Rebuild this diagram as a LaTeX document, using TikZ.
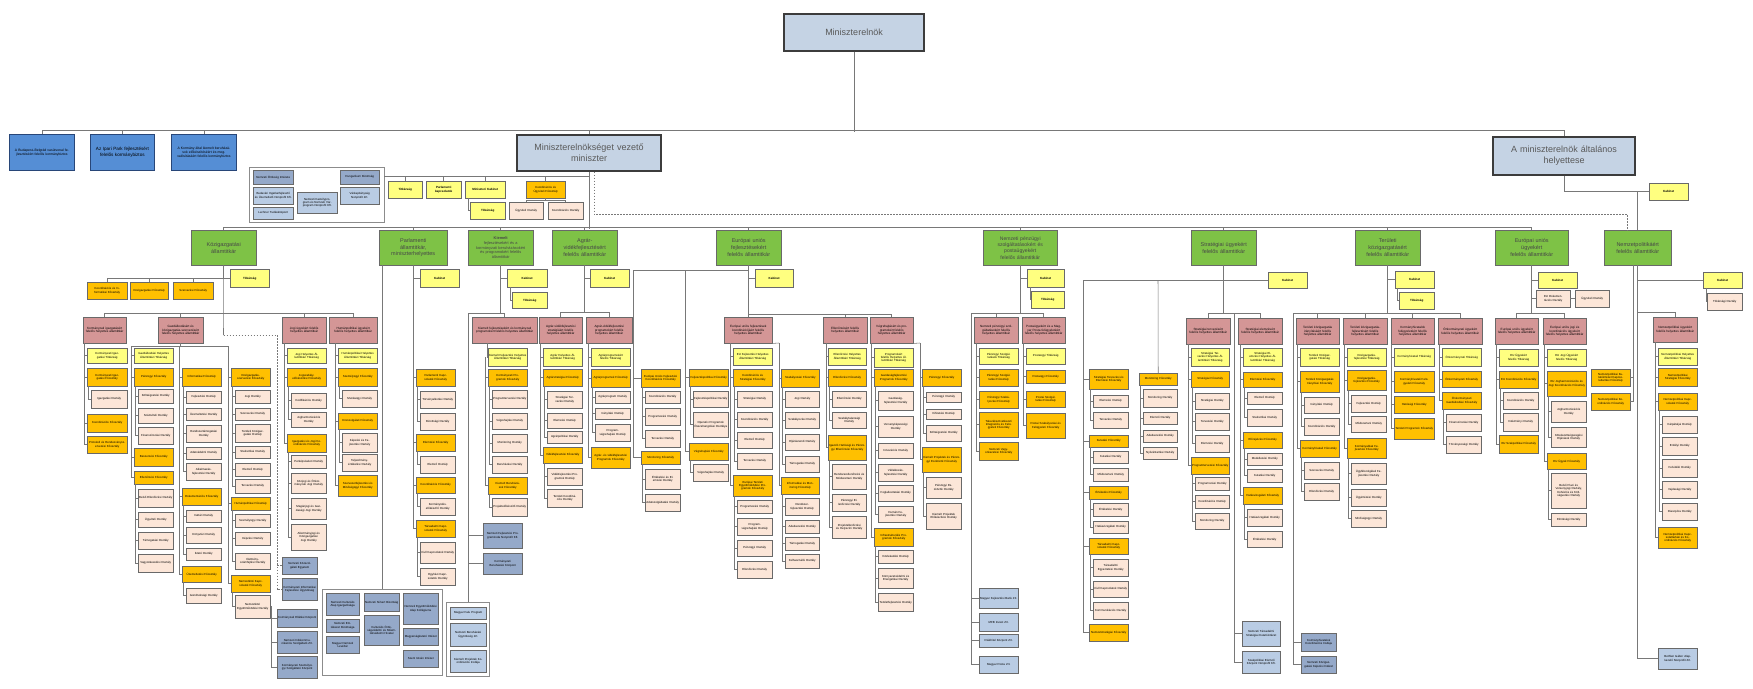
\documentclass[tikz,border=0pt]{standalone}
\usepackage{fontspec}
\setmainfont{Liberation Sans}
\usetikzlibrary{calc,shadows}
\definecolor{ctop}{RGB}{197,211,228}
\definecolor{ctopb}{RGB}{60,60,60}
\definecolor{cblue}{RGB}{85,142,213}
\definecolor{cblueb}{RGB}{40,70,120}
\definecolor{cgreen}{RGB}{126,194,70}
\definecolor{cyellow}{RGB}{255,255,128}
\definecolor{corange}{RGB}{255,192,0}
\definecolor{cpeach}{RGB}{252,230,216}
\definecolor{cpink}{RGB}{212,150,150}
\definecolor{cinstd}{RGB}{149,169,201}
\definecolor{cinstl}{RGB}{185,204,228}
\definecolor{cbord}{RGB}{105,105,105}
\definecolor{cline}{RGB}{120,120,120}
\newcommand\tfont{\fontsize{2.9}{3.3}\selectfont}
\newcommand\pfont{\fontsize{3.1}{3.6}\selectfont}
\newcommand\gfont{\fontsize{5.5}{6.8}\selectfont}
\newcommand\gfontb{\fontsize{3.9}{4.7}\selectfont}
\newcommand\kfont{\fontsize{3.0}{3.5}\selectfont\bfseries}
\newcommand\topfont{\fontsize{9}{11}\selectfont}
\newcommand\bfont{\fontsize{3.4}{4.0}\selectfont}
\newcommand\bfontb{\fontsize{4.6}{5.4}\selectfont}
% box: style, name, x, y(top), w, h, text
\newcommand\bx[7]{%
  \pgfmathsetmacro\bxtw{#5-1.6}%
  \node[#1,anchor=north west,minimum width=#5pt,minimum height=#6pt,text width=\bxtw pt] (#2) at (#3,#4) {#7};}
\newcount\bxn
% column: x0, width, start node, start xshift, bracket offset
\newcommand\setcol[5]{\gdef\cX{#1}\gdef\cW{#2}\gdef\zn{#3}\gdef\zsh{#4}\gdef\cOff{#5}}
\newcommand\setchild[1]{\gdef\on{#1.south west}\gdef\osh{1.5}}
% item: style, level, ytop, ybottom, text
\newcommand\itm[5]{%
  \global\advance\bxn by 1\relax
  \xdef\nm{b\the\bxn}%
  \pgfmathsetmacro\hh{#4-#3}%
  \ifnum#2=0\relax
    \bx{#1}{\nm}{\cX}{#3}{\cW}{\hh}{#5}%
    \draw[conn] ([xshift=\zsh pt]\zn) |- (\nm.west);%
    \xdef\zn{\nm.west}\xdef\zsh{-\cOff}%
    \xdef\on{\nm.south west}\gdef\osh{1.5}%
  \else
    \pgfmathsetmacro\xx{\cX+4}\pgfmathsetmacro\ww{\cW-4}%
    \bx{#1}{\nm}{\xx}{#3}{\ww}{\hh}{#5}%
    \draw[conn] ([xshift=\osh pt]\on) |- (\nm.west);%
    \xdef\on{\nm.west}\gdef\osh{-2.5}%
  \fi}
\begin{document}
\begin{tikzpicture}[x=1pt,y=-1pt,
 conn/.style={draw=cline,line width=0.55pt},
 dconn/.style={draw=cline,line width=0.55pt,dash pattern=on 1.8pt off 1.2pt},
 basebox/.style={draw=cbord,line width=0.45pt,inner sep=0.3pt,align=center,text=black,
   drop shadow={shadow xshift=0.6pt,shadow yshift=-0.6pt,fill=black!60,opacity=1}},
 ybox/.style={basebox,fill=cyellow,font=\tfont},
 obox/.style={basebox,fill=corange,font=\tfont},
 pbox/.style={basebox,fill=cpeach,font=\tfont},
 rbox/.style={basebox,fill=cpink,font=\pfont},
 gbox/.style={basebox,fill=cgreen,font=\gfont,text=black!72},
 kbox/.style={basebox,fill=cyellow,font=\kfont},
 tbox/.style={draw=ctopb,line width=1.6pt,fill=ctop,font=\topfont,text=black!65,align=center,inner sep=1pt},
 blbox/.style={basebox,draw=cblueb,line width=0.8pt,fill=cblue,font=\bfont},
 idbox/.style={basebox,fill=cinstd,font=\tfont},
 ilbox/.style={basebox,fill=cinstl,font=\tfont},
 frbox/.style={draw=black!45,line width=0.7pt,fill=white,inner sep=0pt}]
\fill[white] (0,0) rectangle (1753,688);
\useasboundingbox (0,0) rectangle (1753,688);

% ---------------- top level
\bx{tbox}{pm}{783}{13}{140}{37}{Miniszterelnök}
\bx{blbox}{kb1}{9}{134}{65}{36}{A Budapest--Belgrád vasútvonal fejlesztéséért felelős kormánybiztos}
\bx{blbox,font=\bfontb}{kb2}{90}{134}{64}{36}{Az Ipari Park fejlesztésért felelős kormánybiztos}
\bx{blbox}{kb3}{171}{134}{65}{36}{A Kormány által kiemelt beruházások előkészítéséért és megvalósításáért felelős kormánybiztos}
\bx{tbox}{min}{516}{134}{144}{36}{Miniszterelnökséget vezető\\miniszter}
\bx{tbox}{dep}{1492}{136}{142}{38}{A miniszterelnök általános\\helyettese}
\draw[conn] (pm.south) -- ++(0,80);
\draw[conn] (kb1.north) -- ++(0,-4) -| (dep.north);
\draw[conn] (kb2.north) -- ++(0,-4);
\draw[conn] (kb3.north) -- ++(0,-4);
\draw[conn] (min.north) -- ++(0,-4);

% ---------------- minister's own units
\bx{frbox}{frm1}{249}{167}{135}{55}{}
\bx{idbox}{i1}{253}{170}{40}{14}{Nemzeti Örökség Intézete}
\bx{ilbox}{i2}{253}{187}{40}{17}{Budavári Ingatlanfejlesztő és Üzemeltető Nonprofit Kft.}
\bx{ilbox}{i3}{253}{207}{40}{12}{Lechner Tudásközpont}
\bx{ilbox}{i4}{297}{192}{40}{21}{Nemzeti Kastélyprogram és Nemzeti Várprogram Nonprofit Kft.}
\bx{idbox}{i5}{340}{170}{39}{14}{Hungarikum Bizottság}
\bx{ilbox}{i6}{340}{187}{39}{17}{Várkapitányság Nonprofit Zrt.}
\coordinate (mL) at (384,176);
\draw[conn] (mL) -- (min.south |- mL);
\bx{kbox}{ty1}{388}{181}{34}{17}{Titkárság}
\bx{kbox}{ty2}{426}{181}{35}{17}{Parlamenti kapcsolatok}
\bx{kbox}{ty3}{465}{181}{40}{17}{Miniszteri Kabinet}
\bx{kbox}{ty4}{470}{202}{35}{17}{Titkárság}
\bx{obox}{to1}{526}{181}{39}{17}{Koordinációs és Ügyviteli Főosztály}
\bx{pbox}{tp1}{509}{202}{34}{17}{Ügyviteli Osztály}
\bx{pbox}{tp2}{548}{202}{35}{17}{Koordinációs Osztály}
\foreach \n in {ty1,ty2,ty3,to1} \draw[conn] (\n.north) -- (\n.north |- mL);
\draw[conn] ([xshift=3pt]ty3.south west) |- (ty4.west);
\draw[conn] (to1.south) -- ++(0,2) -| (tp1.north);
\draw[conn] (to1.south) ++(0,2) -| (tp2.north);

% ---------------- state secretaries
\bx{gbox}{gK}{191}{230}{65}{35}{Közigazgatási\\államtitkár}
\bx{gbox}{gP}{379}{230}{68}{35}{Parlamenti\\államtitkár,\\miniszterhelyettes}
\bx{gbox,font=\gfontb}{gKi}{468}{230}{65}{35}{\textbf{Kiemelt}\\fejlesztésekért és a\\kormányzati beruházásokért\\és programokért felelős\\államtitkár}
\bx{gbox}{gA}{552}{230}{65}{35}{Agrár-\\vidékfejlesztésért\\felelős államtitkár}
\bx{gbox}{gE}{716}{230}{65}{35}{Európai uniós\\fejlesztésekért\\felelős államtitkár}
\bx{gbox,font=\fontsize{5.1}{6.3}\selectfont}{gN}{983}{230}{74}{35}{Nemzeti pénzügyi\\szolgáltatásokért és\\postaügyekért\\felelős államtitkár}
\bx{gbox}{gS}{1191}{230}{65}{35}{Stratégiai ügyekért\\felelős államtitkár}
\bx{gbox}{gT}{1355}{230}{65}{35}{Területi\\közigazgatásért\\felelős államtitkár}
\bx{gbox}{gEU}{1495}{230}{73}{35}{Európai uniós\\ügyekért\\felelős államtitkár}
\bx{gbox}{gNP}{1604}{230}{67}{35}{Nemzetpolitikáért\\felelős államtitkár}
\draw[conn] (min.south) -- ++(0,57);
\draw[conn] (gK.north) -- ++(0,-3) -| (gEU.north);
\foreach \n in {gP,gKi,gA,gE,gN,gS,gT} \draw[conn] (\n.north) -- ++(0,-3);
\draw[dconn] ([xshift=5pt]min.south) -- ++(0,43) -| ([xshift=-10pt]gNP.north);
\bx{kbox}{kabD}{1649}{183}{39}{17}{Kabinet}
\draw[conn] (dep.south) |- (kabD.west);
\draw[conn] (gNP.north) -- (gNP.north |- kabD.west);

% ================= Közigazgatási államtitkár
\bx{kbox}{kabK}{230}{269}{39}{18}{Titkárság}
\bx{obox}{ok1}{87}{282}{40}{17}{Koordinációs és Informatikai Főosztály}
\bx{obox}{ok2}{130}{282}{38}{17}{Közigazgatási Főosztály}
\bx{obox}{ok3}{173}{282}{40}{17}{Szervezési Főosztály}
\draw[conn] (gK.south) |- (kabK.west);
\draw[conn] (ok1.north) |- (kabK.west);
\draw[conn] (ok2.north) -- ++(0,-4);
\draw[conn] (ok3.north) -- ++(0,-4);
\bx{rbox}{pA1}{83}{317}{43}{26}{Kormányzati igazgatásért felelős helyettes államtitkár}
\bx{rbox}{pA2}{158}{317}{45}{26}{Gazdálkodásért és közigazgatás-szervezésért felelős helyettes államtitkár}
\bx{rbox}{pA3}{282}{317}{44}{26}{Jogi ügyekért felelős helyettes államtitkár}
\bx{rbox}{pA4}{329}{317}{48}{26}{Humánpolitikai ügyekért felelős helyettes államtitkár}
\draw[conn] (pA1.north) -- ++(0,-4) -| (pA4.north);
\draw[conn] (pA2.north) -- ++(0,-4);
\draw[conn] (pA3.north) -- ++(0,-4);
\coordinate (dK) at (223.5,335);
\coordinate (dK2) at (277,335);
\draw[conn] (gK.south) -- (dK);
\bx{idbox}{blK1}{282}{557}{35}{17}{Nemzeti Közszolgálati Egyetem}
\bx{idbox}{blK2}{282}{578}{35}{22}{Kormányzati Informatikai Fejlesztési Ügynökség}
\draw[dconn] (dK) -- (dK2) |- (blK2.west);
\draw[dconn] (dK2) |- (blK1.west);

\setcol{87}{40}{pA1.south west}{1}{3}
\itm{ybox}{0}{348}{363}{Kormányzati Igazgatási Titkárság}
\itm{obox}{0}{368}{386}{Kormányzati Igazgatási Főosztály}
\itm{pbox}{1}{390}{408}{Igazgatási Osztály}
\itm{obox}{0}{414}{432}{Koordinációs Főosztály}
\itm{obox}{0}{436}{453}{Protokoll és Rendezvényszervezési Főosztály}

\coordinate (a2L) at (131,346);
\coordinate (a2M) at (179,346);
\coordinate (a2R) at (228,346);
\draw[conn] (pA2.south) -- (pA2.south |- a2L);
\draw[conn] (a2L) -- (a2R);
\setcol{134}{39}{a2L}{0}{3}
\itm{ybox}{0}{348}{363}{Gazdálkodási Helyettes Államtitkári Titkárság}
\itm{obox}{0}{368}{386}{Pénzügyi Főosztály}
\itm{pbox}{1}{389}{403}{Költségvetési Osztály}
\itm{pbox}{1}{408}{423}{Számviteli Osztály}
\itm{pbox}{1}{427}{444}{Finanszírozási Osztály}
\itm{obox}{0}{448}{466}{Beszerzési Főosztály}
\itm{obox}{0}{471}{484}{Ellenőrzési Főosztály}
\itm{pbox}{1}{489}{507}{Belső Ellenőrzési Osztály}
\itm{pbox}{1}{512}{527}{Ügyviteli Osztály}
\itm{pbox}{1}{532}{549}{Támogatási Osztály}
\itm{pbox}{1}{554}{572}{Vagyonkezelési Osztály}
\setcol{182}{39}{a2M}{0}{3}
\itm{obox}{0}{368}{386}{Informatikai Főosztály}
\itm{pbox}{1}{391}{403}{Fejlesztési Osztály}
\itm{pbox}{1}{408}{420}{Üzemeltetési Osztály}
\itm{pbox}{1}{425}{442}{Rendszertámogatási Osztály}
\itm{pbox}{1}{447}{459}{Adatvédelmi Osztály}
\itm{pbox}{1}{463}{480}{Alkalmazás\-fejlesztési Osztály}
\itm{obox}{0}{488}{505}{Dokumentációs Főosztály}
\itm{pbox}{1}{510}{522}{Irattári Osztály}
\itm{pbox}{1}{527}{543}{Könyvtári Osztály}
\itm{pbox}{1}{548}{560}{Iktató Osztály}
\itm{obox}{0}{566}{582}{Üzemeltetési Főosztály}
\itm{pbox}{1}{588}{603}{Gondnoksági Osztály}
\setcol{231}{39}{a2R}{0}{3}
\itm{obox}{0}{368}{386}{Közigazgatás-szervezési Főosztály}
\itm{pbox}{1}{390}{403}{Jogi Osztály}
\itm{pbox}{1}{408}{420}{Szervezési Osztály}
\itm{pbox}{1}{424}{442}{Területi Közigazgatási Osztály}
\itm{pbox}{1}{446}{458}{Statisztikai Osztály}
\itm{pbox}{1}{463}{476}{Elemző Osztály}
\itm{pbox}{1}{479}{493}{Tervezési Osztály}
\itm{obox}{0}{497}{510}{Humánpolitikai Főosztály}
\itm{pbox}{1}{514}{527}{Személyügyi Osztály}
\itm{pbox}{1}{532}{545}{Képzési Osztály}
\itm{pbox}{1}{553}{569}{Illetmény\-számfejtési Osztály}
\itm{obox}{0}{575}{592}{Nemzetközi Kapcsolatok Főosztály}
\itm{pbox}{1}{595}{618}{Nemzetközi Együttműködési Osztály}
\coordinate (k271) at (271,606);
\bx{idbox}{blK3}{277}{609}{40}{18}{Kormányzati Ellátási Központ}
\bx{idbox}{blK4}{277}{631}{40}{22}{Nemzeti Infokommunikációs Szolgáltató Zrt.}
\bx{idbox}{blK5}{277}{656}{40}{22}{Kormányzati Személyügyi Szolgáltató Központ}
\foreach \n in {blK3,blK4,blK5} \draw[conn] (k271) |- (\n.west);

\setcol{287}{39}{pA3.south west}{2}{3}
\itm{ybox}{0}{348}{363}{Jogi Helyettes Államtitkári Titkárság}
\itm{obox}{0}{368}{386}{Jogszabály-előkészítési Főosztály}
\itm{pbox}{1}{393}{408}{Kodifikációs Osztály}
\itm{pbox}{1}{412}{427}{Jogharmonizációs Osztály}
\itm{obox}{0}{434}{452}{Igazgatási és Jogi Koordinációs Főosztály}
\itm{pbox}{1}{455}{468}{Perképviseleti Osztály}
\itm{pbox}{1}{473}{493}{Közjogi és Önkormányzati Jogi Osztály}
\itm{pbox}{1}{498}{519}{Magánjogi és Gazdasági Jogi Osztály}
\itm{pbox}{1}{524}{550}{Alkotmányjogi és Közigazgatási Jogi Osztály}
\setcol{338}{39}{pA4.south west}{6}{3}
\itm{ybox}{0}{348}{363}{Humánpolitikai Helyettes Államtitkári Titkárság}
\itm{obox}{0}{368}{386}{Személyügyi Főosztály}
\itm{pbox}{1}{390}{407}{Munkaügyi Osztály}
\itm{obox}{0}{413}{429}{Közszolgálati Főosztály}
\itm{pbox}{1}{433}{452}{Képzési és Fejlesztési Osztály}
\itm{pbox}{1}{454}{471}{Teljesítmény\-értékelési Osztály}
\itm{obox}{0}{475}{496}{Szervezetfejlesztési és Minőségügyi Főosztály}

% ================= Parlamenti államtitkár
\bx{kbox}{kabP}{420}{269}{39}{18}{Kabinet}
\draw[conn] (gP.south) |- (kabP.west);
\setcol{416}{39}{gP.south}{0}{3}
\itm{obox}{0}{369}{386}{Parlamenti Kapcsolatok Főosztály}
\itm{pbox}{1}{391}{408}{Törvényalkotási Osztály}
\itm{pbox}{1}{413}{430}{Bizottsági Osztály}
\itm{obox}{0}{434}{451}{Elemzési Főosztály}
\itm{pbox}{1}{456}{473}{Elemző Osztály}
\itm{obox}{0}{477}{493}{Koordinációs Főosztály}
\itm{pbox}{1}{498}{515}{Kormányülés-előkészítő Osztály}
\itm{obox}{0}{520}{537}{Társadalmi Kapcsolatok Főosztály}
\itm{pbox}{1}{542}{563}{Civil Kapcsolatok Osztály}
\itm{pbox}{1}{568}{585}{Egyházi Kapcsolatok Osztály}
\bx{frbox}{frmP}{322}{589}{120}{86}{}
\coordinate (pv) at ([xshift=3pt]gP.south west);
\draw[conn] (pv) -- (pv |- frmP.north);
\bx{idbox}{f1}{326}{593}{33}{22}{Nemzeti Kulturális Alap Igazgatósága}
\bx{idbox}{f2}{326}{619}{33}{13}{Nemzeti Emlékezet Bizottsága}
\bx{idbox}{f3}{326}{636}{33}{17}{Magyar Nemzeti Levéltár}
\bx{idbox}{f4}{364}{593}{35}{18}{Nemzeti Sírkert Bizottság}
\bx{idbox}{f5}{364}{615}{35}{30}{Kulturális Örökségvédelmi és Műemlékvédelmi Hivatal}
\bx{idbox}{f6}{403}{593}{35}{31}{Nemzeti Együttműködési Alap Kollégiuma}
\bx{idbox}{f7}{403}{628}{35}{17}{Magyarságkutató Intézet}
\bx{idbox}{f8}{403}{650}{35}{17}{Szent István Intézet}

% ================= Kiemelt államtitkár
\bx{kbox}{kabKi}{507}{269}{40}{18}{Kabinet}
\bx{kbox}{tKi}{512}{292}{35}{16}{Titkárság}
\draw[conn] (gKi.south) |- (kabKi.west);
\draw[conn] ([xshift=3pt]kabKi.south west) |- (tKi.west);
\bx{rbox}{pC1}{472}{317}{65}{26}{Kiemelt fejlesztésekért és kormányzati programokért felelős helyettes államtitkár}
\coordinate (kv) at (468,313);
\draw[conn] (gKi.south) -- (gKi.south |- kv);
\draw[conn] (pC1.north) |- (kv);
\setcol{488}{39}{pC1.south west}{15}{3}
\itm{ybox}{0}{348}{366}{Kiemelt Fejlesztési Helyettes Államtitkári Titkárság}
\itm{obox}{0}{369}{386}{Kormányzati Programok Főosztály}
\itm{pbox}{1}{390}{408}{Program\-tervezési Osztály}
\itm{pbox}{1}{413}{429}{Végrehajtási Osztály}
\itm{pbox}{1}{434}{452}{Monitoring Osztály}
\itm{pbox}{1}{456}{473}{Beruházási Osztály}
\itm{obox}{0}{477}{494}{Kiemelt Beruházások Főosztály}
\itm{pbox}{1}{498}{516}{Projekt\-előkészítő Osztály}
\bx{idbox}{blC1}{483}{523}{39}{25}{Nemzeti Fejlesztési Programiroda Nonprofit Kft.}
\bx{idbox}{blC2}{483}{553}{39}{21}{Kormányzati Beruházási Központ}
\bx{frbox}{frmC}{446}{602}{43}{74}{}
\bx{ilbox}{c1}{450}{607}{36}{12}{Magyar Falu Program}
\bx{ilbox}{c2}{450}{623}{36}{23}{Nemzeti Beruházási Ügynökség Zrt.}
\bx{ilbox}{c3}{450}{650}{36}{22}{Kiemelt Projektek Koordinációs Irodája}
\draw[conn] (kv) |- (blC1.west);
\draw[conn] (kv) |- (blC2.west);
\draw[conn] (kv) -- (kv |- frmC.north);

% ================= Agrár-vidékfejlesztésért
\bx{kbox}{kabA}{590}{269}{39}{18}{Kabinet}
\draw[conn] (gA.south) |- (kabA.west);
\bx{rbox}{pD1}{539}{317}{43}{26}{Agrár-vidékfejlesztési stratégiáért felelős helyettes államtitkár}
\bx{rbox}{pD2}{586}{317}{46}{26}{Agrár-vidékfejlesztési programokért felelős helyettes államtitkár}
\draw[conn] (gA.south) -- ++(0,47);
\draw[conn] (pD1.north) -- ++(0,-5) -| (pD2.north);
\setcol{543}{39}{pD1.south west}{1}{3}
\itm{ybox}{0}{348}{366}{Agrár Helyettes Államtitkári Titkárság}
\itm{obox}{0}{369}{386}{Agrárstratégiai Főosztály}
\itm{pbox}{1}{391}{408}{Stratégiai Tervezési Osztály}
\itm{pbox}{1}{413}{428}{Elemzési Osztály}
\itm{pbox}{1}{431}{443}{Agrárpolitikai Osztály}
\itm{obox}{0}{447}{463}{Vidékfejlesztési Főosztály}
\itm{pbox}{1}{468}{485}{Vidékfejlesztési Programok Osztály}
\itm{pbox}{1}{489}{507}{Területi Koordinációs Osztály}
\setcol{591}{39}{pD2.south west}{2}{3}
\itm{ybox}{0}{348}{366}{Agrárprogramokért felelős Titkárság}
\itm{obox}{0}{369}{387}{Agrárprogramok Főosztály}
\itm{pbox}{1}{391}{403}{Agrárprogram Osztály}
\itm{pbox}{1}{408}{419}{Irányítási Osztály}
\itm{pbox}{1}{424}{441}{Program\-végrehajtási Osztály}
\itm{obox}{0}{447}{468}{Agrár- és vidékfejlesztési Programok Főosztály}

% ================= Európai uniós fejlesztésekért
\bx{kbox}{kabE}{755}{269}{38}{18}{Kabinet}
\draw[conn] (gE.south) |- (kabE.west);
\coordinate (eL1) at (633,270);
\coordinate (eL2) at (685,270);
\draw[conn] (eL1) -- (eL1 -| gE.south);
\setcol{641}{39}{eL1}{0}{8}
\itm{obox}{0}{369}{387}{Európai Uniós Fejlesztési Koordinációs Főosztály}
\itm{pbox}{1}{391}{403}{Koordinációs Osztály}
\itm{pbox}{1}{408}{425}{Programozási Osztály}
\itm{pbox}{1}{430}{447}{Tervezési Osztály}
\itm{obox}{0}{451}{464}{Monitoring Főosztály}
\itm{pbox}{1}{469}{489}{Értékelési és Elemzési Osztály}
\itm{pbox}{1}{494}{511}{Adatszolgáltatási Osztály}
\setcol{689}{39}{eL2}{0}{4}
\itm{obox}{0}{369}{386}{Fejlesztéspolitikai Főosztály}
\itm{pbox}{1}{391}{407}{Fejlesztéspolitikai Osztály}
\itm{pbox}{1}{412}{437}{Operatív Programok Összehangolási Osztálya}
\itm{obox}{0}{443}{460}{Végrehajtási Főosztály}
\itm{pbox}{1}{464}{481}{Végrehajtási Osztály}
\bx{rbox}{pE1}{724}{317}{48}{26}{Európai uniós fejlesztések koordinációjáért felelős helyettes államtitkár}
\bx{rbox}{pE2}{823}{317}{44}{26}{Ellenőrzésért felelős helyettes államtitkár}
\bx{rbox}{pE3}{870}{317}{43}{26}{Végrehajtásért és programokért felelős helyettes államtitkár}
\draw[conn] (gE.south) -- ++(0,49);
\draw[conn] (pE1.north) -- ++(0,-3) -| (pE3.north);
\draw[conn] (pE2.north) -- ++(0,-3);
\setcol{733}{39}{pE1.south west}{6}{3}
\itm{ybox}{0}{348}{365}{EU Fejlesztési Helyettes Államtitkári Titkárság}
\itm{obox}{0}{369}{386}{Koordinációs és Stratégiai Főosztály}
\itm{pbox}{1}{391}{407}{Stratégiai Osztály}
\itm{pbox}{1}{412}{427}{Koordinációs Osztály}
\itm{pbox}{1}{432}{448}{Elemző Osztály}
\itm{pbox}{1}{453}{469}{Tervezési Osztály}
\itm{obox}{0}{475}{496}{Európai Területi Együttműködési Programok Főosztály}
\itm{pbox}{1}{500}{513}{Programozási Osztály}
\itm{pbox}{1}{518}{535}{Program-végrehajtási Osztály}
\itm{pbox}{1}{540}{556}{Pénzügyi Osztály}
\itm{pbox}{1}{561}{578}{Ellenőrzési Osztály}
\coordinate (e1r) at (779,343);
\draw[conn] (pE1.south east) -- (e1r);
\setcol{781}{38}{e1r}{0}{2}
\itm{obox}{0}{369}{387}{Szabályozási Főosztály}
\itm{pbox}{1}{391}{407}{Jogi Osztály}
\itm{pbox}{1}{412}{428}{Szabályozási Osztály}
\itm{pbox}{1}{434}{450}{Eljárásrendi Osztály}
\itm{pbox}{1}{456}{472}{Támogatási Osztály}
\itm{obox}{0}{477}{494}{Informatikai és Monitoring Főosztály}
\itm{pbox}{1}{498}{515}{Rendszer\-fejlesztési Osztály}
\itm{pbox}{1}{520}{533}{Adatkezelési Osztály}
\itm{pbox}{1}{537}{550}{Támogatási Osztály}
\itm{pbox}{1}{554}{568}{Felhasználói Osztály}
\setcol{828}{38}{pE2.south west}{3}{2}
\itm{ybox}{0}{348}{365}{Ellenőrzési Helyettes Államtitkári Titkárság}
\itm{obox}{0}{369}{386}{Ellenőrzési Főosztály}
\itm{pbox}{1}{391}{407}{Ellenőrzési Osztály}
\itm{pbox}{1}{412}{428}{Szabálytalansági Osztály}
\itm{obox}{0}{435}{460}{Igazoló Hatósági és Pénzügyi Ellenőrzési Főosztály}
\itm{pbox}{1}{464}{489}{Rendszer\-ellenőrzési és Módszertani Osztály}
\itm{pbox}{1}{494}{511}{Pénzügyi Ellenőrzési Osztály}
\itm{pbox}{1}{516}{538}{Projekt\-ellenőrzési és Helyszíni Osztály}
\setcol{874}{39}{pE3.south west}{1}{3}
\itm{ybox}{0}{348}{367}{Programokért felelős Helyettes Államtitkári Titkárság}
\itm{obox}{0}{369}{386}{Gazdaságfejlesztési Programok Főosztály}
\itm{pbox}{1}{391}{410}{Gazdaság\-fejlesztési Osztály}
\itm{pbox}{1}{416}{437}{Versenyképességi Osztály}
\itm{pbox}{1}{443}{458}{Innovációs Osztály}
\itm{pbox}{1}{464}{481}{Vállalkozás\-fejlesztési Osztály}
\itm{pbox}{1}{485}{501}{Foglalkoztatási Osztály}
\itm{pbox}{1}{506}{522}{Humán Fejlesztési Osztály}
\itm{obox}{0}{528}{546}{Infrastrukturális Programok Főosztály}
\itm{pbox}{1}{550}{563}{Közlekedési Osztály}
\itm{pbox}{1}{568}{588}{Környezetvédelmi és Energetikai Osztály}
\itm{pbox}{1}{593}{611}{Terület\-fejlesztési Osztály}
\coordinate (e3r) at (920,343);
\draw[conn] (pE3.south east) -- (e3r);
\setcol{922}{39}{e3r}{0}{2}
\itm{obox}{0}{369}{386}{Pénzügyi Főosztály}
\itm{pbox}{1}{392}{402}{Pénzügyi Osztály}
\itm{pbox}{1}{409}{419}{Kifizetési Osztály}
\itm{pbox}{1}{425}{441}{Költségvetési Osztály}
\itm{obox}{0}{447}{472}{Kiemelt Projektek és Pénzügyi Eszközök Főosztály}
\itm{pbox}{1}{477}{498}{Pénzügyi Eszközök Osztály}
\itm{pbox}{1}{503}{529}{Kiemelt Projektek Előkészítési Osztály}

% ================= Nemzeti pénzügyi szolgáltatásokért
\bx{kbox}{kabN}{1027}{269}{37}{18}{Kabinet}
\bx{kbox}{tN}{1031}{291}{33}{17}{Titkárság}
\draw[conn] (gN.south) |- (kabN.west);
\draw[conn] ([xshift=3pt]kabN.south west) |- (tN.west);
\bx{rbox}{pF1}{974}{317}{44}{26}{Nemzeti pénzügyi szolgáltatásokért felelős helyettes államtitkár}
\bx{rbox}{pF2}{1022}{317}{43}{26}{Postaügyekért és a Magyar Posta felügyeletéért felelős helyettes államtitkár}
\coordinate (nv) at (971,313);
\draw[conn] (gN.south) -- (gN.south |- nv);
\draw[conn] (nv) -| (pF2.north);
\draw[conn] (pF1.north) -- ++(0,-4);
\setcol{979}{39}{pF1.south west}{2}{3}
\itm{ybox}{0}{348}{364}{Pénzügyi Szolgáltatások Titkárság}
\itm{obox}{0}{369}{386}{Pénzügyi Szolgáltatási Főosztály}
\itm{obox}{0}{391}{408}{Pénzügyi Szabályozási Főosztály}
\itm{obox}{0}{412}{437}{Takarékszövetkezeti Integrációs és Felügyeleti Főosztály}
\itm{obox}{0}{442}{460}{Nemzeti Vagyonkezelési Főosztály}
\setcol{1026}{39}{pF2.south west}{1}{3}
\itm{ybox}{0}{348}{364}{Postaügyi Titkárság}
\itm{obox}{0}{370}{383}{Postaügyi Főosztály}
\itm{obox}{0}{391}{407}{Postai Szolgáltatási Főosztály}
\itm{obox}{0}{413}{438}{Postai Szabályozási és Felügyeleti Főosztály}
\bx{ilbox}{blN1}{979}{588}{39}{20}{Magyar Fejlesztési Bank Zrt.}
\bx{ilbox}{blN2}{979}{613}{39}{18}{MFB Invest Zrt.}
\bx{ilbox}{blN3}{979}{634}{39}{13}{Diákhitel Központ Zrt.}
\bx{ilbox}{blN4}{979}{656}{39}{17}{Magyar Posta Zrt.}
\foreach \n in {blN1,blN2,blN3,blN4} \draw[conn] (nv) |- (\n.west);

% ================= Stratégiai ügyekért
\bx{kbox}{kabS}{1268}{272}{39}{16}{Kabinet}
\draw[conn] (gS.south) |- (kabS.west);
\coordinate (sL1) at (1083,280);
\coordinate (sL2) at (1158,280);
\draw[conn] (sL1) -- (sL1 -| gS.south);
\setcol{1089}{39}{sL1}{0}{6}
\itm{obox}{0}{369}{389}{Stratégiai Tervezési és Elemzési Főosztály}
\itm{pbox}{1}{395}{407}{Elemzési Osztály}
\itm{pbox}{1}{412}{428}{Tervezési Osztály}
\itm{obox}{0}{435}{447}{Kutatási Főosztály}
\itm{pbox}{1}{451}{463}{Kutatási Osztály}
\itm{pbox}{1}{468}{481}{Módszertani Osztály}
\itm{obox}{0}{486}{499}{Értékelési Főosztály}
\itm{pbox}{1}{503}{516}{Értékelési Osztály}
\itm{pbox}{1}{521}{533}{Hatásvizsgálati Osztály}
\itm{obox}{0}{538}{554}{Társadalmi Kapcsolatok Főosztály}
\itm{pbox}{1}{559}{576}{Társadalmi Egyeztetési Osztály}
\itm{pbox}{1}{581}{597}{Civil Kapcsolatok Osztály}
\itm{pbox}{1}{602}{619}{Kommunikációs Osztály}
\itm{obox}{0}{624}{641}{Nemzetstratégiai Főosztály}
\bx{obox}{so1}{1139}{373}{38}{12}{Monitoring Főosztály}
\draw[conn] (sL2) -- (so1.north);
\setcol{1139}{38}{so1.south west}{0}{3}
\setchild{so1}
\itm{pbox}{1}{389}{407}{Monitoring Osztály}
\itm{pbox}{1}{412}{424}{Elemző Osztály}
\itm{pbox}{1}{430}{442}{Adatkezelési Osztály}
\itm{pbox}{1}{447}{459}{Nyilvántartási Osztály}
\bx{rbox}{pG1}{1186}{318}{44}{26}{Stratégiai tervezésért felelős helyettes államtitkár}
\bx{rbox}{pG2}{1238}{318}{44}{26}{Stratégiai elemzésért felelős helyettes államtitkár}
\draw[conn] (gS.south) -- ++(0,48);
\draw[conn] (pG1.north) -- ++(0,-5) -| (pG2.north);
\coordinate (sv) at (1234,313);
\bx{ilbox}{blS1}{1242}{621}{38}{25}{Nemzeti Társadalmi Stratégiai Kutatóintézet}
\bx{ilbox}{blS2}{1242}{651}{38}{22}{Szakpolitikai Elemző Központ Nonprofit Kft.}
\draw[conn] (sv) |- (blS1.west);
\draw[conn] (sv) |- (blS2.west);
\setcol{1191}{38}{pG1.south west}{2}{3}
\itm{ybox}{0}{348}{366}{Stratégiai Tervezési Helyettes Államtitkári Titkárság}
\itm{obox}{0}{371}{387}{Stratégiai Főosztály}
\itm{pbox}{1}{393}{409}{Stratégiai Osztály}
\itm{pbox}{1}{413}{430}{Tervezési Osztály}
\itm{pbox}{1}{435}{452}{Elemzési Osztály}
\itm{obox}{0}{457}{474}{Programtervezési Főosztály}
\itm{pbox}{1}{477}{490}{Programozási Osztály}
\itm{pbox}{1}{495}{508}{Koordinációs Osztály}
\itm{pbox}{1}{513}{529}{Monitoring Osztály}
\setcol{1243}{39}{pG2.south west}{2}{3}
\itm{ybox}{0}{348}{366}{Stratégiai Elemzési Helyettes Államtitkári Titkárság}
\itm{obox}{0}{372}{387}{Elemzési Főosztály}
\itm{pbox}{1}{392}{404}{Elemző Osztály}
\itm{pbox}{1}{409}{426}{Statisztikai Osztály}
\itm{obox}{0}{432}{448}{Előrejelzési Főosztály}
\itm{pbox}{1}{453}{465}{Modellezési Osztály}
\itm{pbox}{1}{469}{482}{Kutatási Osztály}
\itm{obox}{0}{487}{504}{Hatásvizsgálati Főosztály}
\itm{pbox}{1}{509}{526}{Hatásvizsgálati Osztály}
\itm{pbox}{1}{531}{547}{Értékelési Osztály}

% ================= Területi közigazgatásért
\bx{kbox}{kabT}{1395}{271}{39}{17}{Kabinet}
\bx{kbox}{tT}{1399}{292}{35}{17}{Titkárság}
\draw[conn] (gT.south) |- (kabT.west);
\draw[conn] ([xshift=2pt]kabT.south west) |- (tT.west);
\bx{rbox}{pH1}{1296}{318}{43}{26}{Területi közigazgatás irányításáért felelős helyettes államtitkár}
\bx{rbox}{pH2}{1343}{318}{44}{26}{Területi közigazgatás-fejlesztésért felelős helyettes államtitkár}
\bx{rbox}{pH3}{1391}{318}{43}{26}{Kormányhivatalok felügyeletéért felelős helyettes államtitkár}
\bx{rbox}{pH4}{1438}{318}{44}{26}{Önkormányzati ügyekért felelős helyettes államtitkár}
\coordinate (tv) at (1293,313);
\draw[conn] (gT.south) -- (gT.south |- tv);
\draw[conn] (tv) -| (pH4.north);
\foreach \n in {pH1,pH2,pH3} \draw[conn] (\n.north) -- ++(0,-5);
\bx{idbox}{blT1}{1301}{633}{35}{18}{Kormányhivatalok Koordinációs Irodája}
\bx{idbox}{blT2}{1301}{656}{35}{17}{Nemzeti Közigazgatási Képzési Intézet}
\draw[conn] (tv) |- (blT1.west);
\draw[conn] (tv) |- (blT2.west);
\setcol{1300}{39}{pH1.south west}{1}{3}
\itm{ybox}{0}{348}{366}{Területi Közigazgatási Titkárság}
\itm{obox}{0}{371}{392}{Területi Közigazgatás Irányítási Főosztály}
\itm{pbox}{1}{397}{413}{Irányítási Osztály}
\itm{pbox}{1}{418}{435}{Koordinációs Osztály}
\itm{obox}{0}{440}{457}{Kormányhivatali Főosztály}
\itm{pbox}{1}{462}{479}{Szervezési Osztály}
\itm{pbox}{1}{483}{500}{Ellenőrzési Osztály}
\setcol{1347}{39}{pH2.south west}{1}{3}
\itm{ybox}{0}{348}{366}{Közigazgatás-fejlesztési Titkárság}
\itm{obox}{0}{370}{390}{Közigazgatás-fejlesztési Főosztály}
\itm{pbox}{1}{395}{412}{Fejlesztési Osztály}
\itm{pbox}{1}{416}{432}{Módszertani Osztály}
\itm{obox}{0}{438}{458}{Kormányablak Fejlesztési Főosztály}
\itm{pbox}{1}{463}{484}{Ügyfélszolgálati Fejlesztési Osztály}
\itm{pbox}{1}{489}{506}{Ügyintézési Osztály}
\itm{pbox}{1}{510}{527}{Minőségügyi Osztály}
\setcol{1394}{40}{pH3.south west}{0}{3}
\itm{ybox}{0}{348}{366}{Kormányhivatali Titkárság}
\itm{obox}{0}{371}{392}{Kormányhivatali Felügyeleti Főosztály}
\itm{obox}{0}{396}{413}{Hatósági Főosztály}
\itm{obox}{0}{418}{439}{Területi Programok Főosztály}
\setcol{1442}{39}{pH4.south west}{1}{3}
\itm{ybox}{0}{348}{366}{Önkormányzati Titkárság}
\itm{obox}{0}{371}{387}{Önkormányzati Főosztály}
\itm{obox}{0}{392}{409}{Önkormányzati Gazdálkodási Főosztály}
\itm{pbox}{1}{414}{431}{Finanszírozási Osztály}
\itm{pbox}{1}{436}{453}{Törvényességi Osztály}

% ================= Európai uniós ügyekért
\bx{kbox}{kabEU}{1538}{272}{39}{16}{Kabinet}
\bx{pbox}{peA}{1536}{290}{34}{17}{EU Dokumentációs Osztály}
\bx{pbox}{peB}{1575}{290}{34}{17}{Ügyviteli Osztály}
\draw[conn] (gEU.south) |- (kabEU.west);
\draw[conn] (gEU.south) |- (peA.west);
\draw[conn] (peA.east) -- (peB.west);
\bx{rbox}{pI1}{1495}{318}{43}{26}{Európai uniós ügyekért felelős helyettes államtitkár}
\bx{rbox}{pI2}{1543}{318}{43}{26}{Európai uniós jogi és koordinációs ügyekért felelős helyettes államtitkár}
\draw[conn] (gEU.south) -- ++(0,48);
\draw[conn] (pI1.north) -- ++(0,-5) -| (pI2.north);
\setcol{1499}{39}{pI1.south west}{1}{3}
\itm{ybox}{0}{349}{366}{EU Ügyekért felelős Titkárság}
\itm{obox}{0}{371}{388}{EU Koordinációs Főosztály}
\itm{pbox}{1}{392}{409}{Koordinációs Osztály}
\itm{pbox}{1}{413}{431}{Intézményi Osztály}
\itm{obox}{0}{435}{453}{EU Szakpolitikai Főosztály}
\setcol{1547}{39}{pI2.south west}{1}{3}
\itm{ybox}{0}{349}{366}{EU Jogi Ügyekért felelős Titkárság}
\itm{obox}{0}{371}{396}{EU Jogharmonizációs és Jogi Koordinációs Főosztály}
\itm{pbox}{1}{401}{422}{Jogharmonizációs Osztály}
\itm{pbox}{1}{427}{447}{Kötelezettség\-szegési Eljárások Osztály}
\itm{obox}{0}{453}{469}{EU Ügyek Főosztály}
\itm{pbox}{1}{473}{508}{Belső Piaci és Versenyjogi Osztály, Kohéziós és Költségvetési Osztály}
\itm{pbox}{1}{513}{526}{Elnökségi Osztály}

% ================= Nemzetpolitikáért
\bx{kbox}{kabNP}{1703}{272}{39}{16}{Kabinet}
\bx{pbox}{pNP}{1707}{293}{35}{17}{Titkársági Osztály}
\draw[conn] (gNP.south) |- (kabNP.west);
\draw[conn] ([xshift=3pt]kabNP.south west) |- (pNP.west);
\bx{obox}{oN1}{1591}{369}{39}{17}{Nemzetpolitikai Kutatóintézet Kapcsolattartási Főosztály}
\bx{obox}{oN2}{1591}{393}{39}{17}{Nemzetpolitikai Koordinációs Főosztály}
\coordinate (nq) at ([xshift=-4.5pt]gNP.south);
\draw[conn] (nq) |- (oN1.east);
\draw[conn] (nq) |- (oN2.east);
\bx{ilbox}{blNP}{1658}{648}{39}{21}{Bethlen Gábor Alapkezelő Nonprofit Zrt.}
\draw[conn] (gNP.south) |- (blNP.west);
\bx{rbox}{pJ}{1653}{317}{44}{25}{Nemzetpolitikai ügyekért felelős helyettes államtitkár}
\coordinate (npv) at (1637.5,312);
\draw[conn] (pJ.north) |- (npv);
\setcol{1658}{39}{pJ.south west}{2}{3}
\itm{ybox}{0}{348}{365}{Nemzetpolitikai Helyettes Államtitkári Titkárság}
\itm{obox}{0}{368}{386}{Nemzetpolitikai Stratégiai Főosztály}
\itm{obox}{0}{393}{410}{Nemzetpolitikai Kapcsolatok Főosztály}
\itm{pbox}{1}{416}{433}{Kárpátaljai Osztály}
\itm{pbox}{1}{437}{455}{Erdélyi Osztály}
\itm{pbox}{1}{459}{477}{Felvidéki Osztály}
\itm{pbox}{1}{481}{498}{Vajdasági Osztály}
\itm{pbox}{1}{503}{520}{Diaszpóra Osztály}
\itm{obox}{0}{527}{548}{Nemzetpolitikai Kapcsolattartási és Koordinációs Főosztály}
\end{tikzpicture}
\end{document}
